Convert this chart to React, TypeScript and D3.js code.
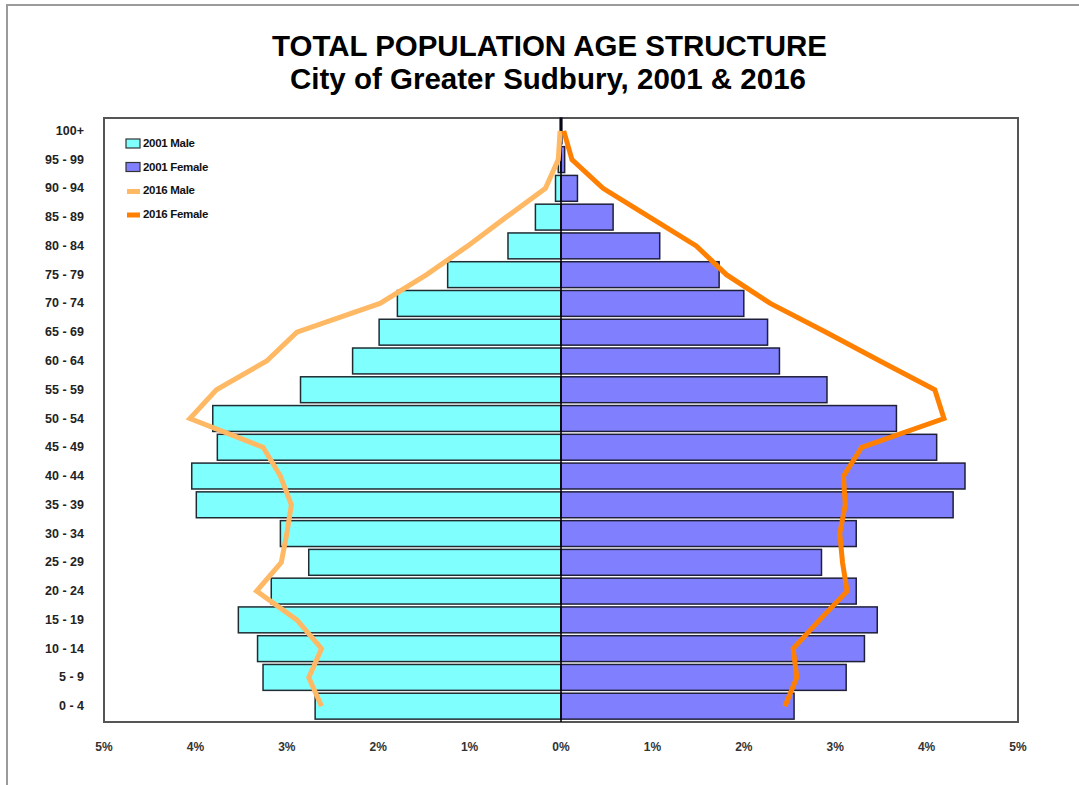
import { useEffect, useRef } from "react";
import * as d3 from "d3";

// age groups, oldest first (top of the pyramid)
const ageGroups = [
  "100+", "95 - 99", "90 - 94", "85 - 89", "80 - 84", "75 - 79", "70 - 74",
  "65 - 69", "60 - 64", "55 - 59", "50 - 54", "45 - 49", "40 - 44", "35 - 39",
  "30 - 34", "25 - 29", "20 - 24", "15 - 19", "10 - 14", "5 - 9", "0 - 4",
];

// share of total population, in %
const male2001 = [
  0.01, 0.03, 0.06, 0.28, 0.58, 1.24, 1.79, 1.99, 2.28, 2.85, 3.81,
  3.76, 4.04, 3.99, 3.07, 2.76, 3.17, 3.53, 3.32, 3.26, 2.69,
];
const female2001 = [
  0.01, 0.04, 0.18, 0.57, 1.08, 1.73, 2.0, 2.26, 2.39, 2.91, 3.67,
  4.11, 4.42, 4.29, 3.23, 2.85, 3.23, 3.46, 3.32, 3.12, 2.55,
];
const male2016 = [
  0.01, 0.03, 0.17, 0.6, 1.02, 1.47, 1.98, 2.89, 3.22, 3.77, 4.06,
  3.26, 3.07, 2.95, 3.0, 3.06, 3.33, 2.89, 2.62, 2.76, 2.62,
];
const female2016 = [
  0.03, 0.12, 0.46, 0.97, 1.48, 1.81, 2.29, 2.9, 3.49, 4.09, 4.19,
  3.29, 3.09, 3.11, 3.05, 3.08, 3.13, 2.83, 2.54, 2.58, 2.45,
];

const xTicks = [-5, -4, -3, -2, -1, 0, 1, 2, 3, 4, 5];

const legendItems = [
  { label: "2001 Male", kind: "box", color: "#80FFFF" },
  { label: "2001 Female", kind: "box", color: "#8080FF" },
  { label: "2016 Male", kind: "line", color: "#FFB864" },
  { label: "2016 Female", kind: "line", color: "#FF8000" },
];

export default function App() {
  const svgRef = useRef<SVGSVGElement>(null);

  useEffect(() => {
    if (!svgRef.current) return;
    const svg = d3.select(svgRef.current);
    svg.selectAll("*").remove();

    const font = "'Liberation Sans', Arial, sans-serif";
    const left = 104;
    const right = 1018;
    const top = 115;
    const bottom = 722;

    const x = d3.scaleLinear().domain([-5, 5]).range([left, right]);
    const y = d3.scaleBand().domain(ageGroups).range([top, bottom]).padding(0.1);
    const yc = (d: string) => (y(d) as number) + y.bandwidth() / 2;

    // outer page border
    svg
      .append("path")
      .attr("d", "M7,790 L7,5 L1085,5")
      .attr("fill", "none")
      .attr("stroke", "#9a9a9a")
      .attr("stroke-width", 2);

    // titles (condensed look, stretched to the reference widths)
    svg
      .append("text")
      .attr("x", 272)
      .attr("y", 56)
      .attr("font-family", font)
      .attr("font-size", 29)
      .attr("font-weight", "bold")
      .attr("textLength", 555)
      .attr("lengthAdjust", "spacingAndGlyphs")
      .text("TOTAL POPULATION AGE STRUCTURE");
    svg
      .append("text")
      .attr("x", 290)
      .attr("y", 89)
      .attr("font-family", font)
      .attr("font-size", 29)
      .attr("font-weight", "bold")
      .attr("textLength", 516)
      .attr("lengthAdjust", "spacingAndGlyphs")
      .text("City of Greater Sudbury, 2001 & 2016");

    // plot frame
    svg
      .append("rect")
      .attr("x", left)
      .attr("y", 118)
      .attr("width", right - left)
      .attr("height", bottom - 118)
      .attr("fill", "#fff")
      .attr("stroke", "#555")
      .attr("stroke-width", 2);

    // male bars 2001
    svg
      .append("g")
      .selectAll("rect")
      .data(ageGroups)
      .join("rect")
      .attr("x", (_, i) => x(-male2001[i]))
      .attr("y", (d) => y(d) as number)
      .attr("width", (_, i) => x(0) - x(-male2001[i]))
      .attr("height", y.bandwidth())
      .attr("fill", "#80FFFF")
      .attr("stroke", "#1f2d33")
      .attr("stroke-width", 1.5);

    // female bars 2001
    svg
      .append("g")
      .selectAll("rect")
      .data(ageGroups)
      .join("rect")
      .attr("x", x(0))
      .attr("y", (d) => y(d) as number)
      .attr("width", (_, i) => x(female2001[i]) - x(0))
      .attr("height", y.bandwidth())
      .attr("fill", "#8080FF")
      .attr("stroke", "#1f1f3a")
      .attr("stroke-width", 1.5);

    // zero axis
    svg
      .append("line")
      .attr("x1", x(0))
      .attr("x2", x(0))
      .attr("y1", 118)
      .attr("y2", bottom)
      .attr("stroke", "#000")
      .attr("stroke-width", 1.5);

    // 2016 lines
    const line = d3
      .line<number>()
      .x((d) => x(d))
      .y((_, i) => yc(ageGroups[i]));

    svg
      .append("path")
      .datum(male2016.map((v) => -v))
      .attr("d", line)
      .attr("fill", "none")
      .attr("stroke", "#FFB864")
      .attr("stroke-width", 5)
      .attr("stroke-linejoin", "miter");

    svg
      .append("path")
      .datum(female2016)
      .attr("d", line)
      .attr("fill", "none")
      .attr("stroke", "#FF8000")
      .attr("stroke-width", 5)
      .attr("stroke-linejoin", "miter");

    // y labels
    svg
      .append("g")
      .selectAll("text")
      .data(ageGroups)
      .join("text")
      .attr("x", 84)
      .attr("y", (d) => yc(d) + 4)
      .attr("text-anchor", "end")
      .attr("font-family", font)
      .attr("font-size", 12.5)
      .attr("font-weight", "bold")
      .attr("fill", "#222")
      .text((d) => d);

    // x labels
    svg
      .append("g")
      .selectAll("text")
      .data(xTicks)
      .join("text")
      .attr("x", (d) => x(d))
      .attr("y", 751)
      .attr("text-anchor", "middle")
      .attr("font-family", font)
      .attr("font-size", 12)
      .attr("font-weight", "bold")
      .attr("fill", "#333")
      .text((d) => `${Math.abs(d)}%`);

    // legend
    const lg = svg.append("g").attr("transform", "translate(126,143)");
    legendItems.forEach((item, i) => {
      const gy = i * 23.5;
      if (item.kind === "box") {
        lg.append("rect")
          .attr("x", 0)
          .attr("y", gy - 4)
          .attr("width", 14)
          .attr("height", 9)
          .attr("fill", item.color)
          .attr("stroke", "#333")
          .attr("stroke-width", 1.2);
      } else {
        lg.append("rect")
          .attr("x", 1)
          .attr("y", gy - 1)
          .attr("width", 13)
          .attr("height", 5)
          .attr("fill", item.color);
      }
      lg.append("text")
        .attr("x", 17)
        .attr("y", gy + 4)
        .attr("font-family", font)
        .attr("font-size", 11.5)
        .attr("font-weight", "bold")
        .attr("letter-spacing", -0.3)
        .attr("fill", "#111")
        .text(item.label);
    });
  }, []);

  return (
    <svg
      ref={svgRef}
      width={1079}
      height={785}
      style={{ position: "absolute", left: 0, top: 0, background: "#fff" }}
    ></svg>
  );
}
